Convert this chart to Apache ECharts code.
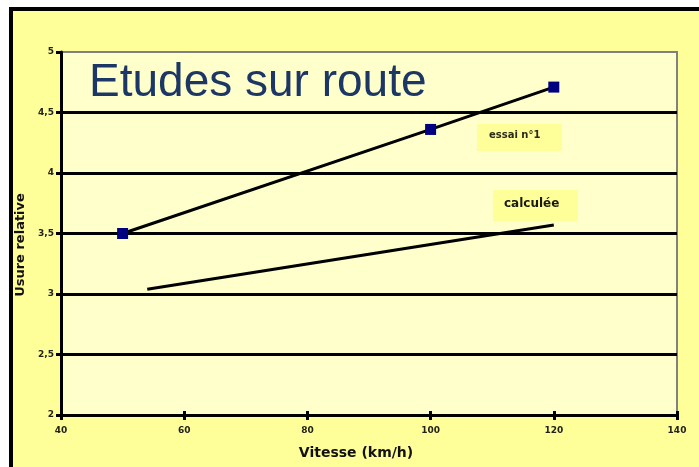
<!DOCTYPE html>
<html>
<head>
<meta charset="utf-8">
<script src="https://cdn.jsdelivr.net/npm/echarts@6/dist/echarts.min.js"></script>
<style>
  html, body { margin: 0; padding: 0; background: #ffffff; }
  #chart { width: 699px; height: 467px; }
</style>
</head>
<body>
<div id="chart"></div>
<script>
// Road study: wear versus speed
const speedTicks = [40, 60, 80, 100, 120, 140];
const wearTicks = [2, 2.5, 3, 3.5, 4, 4.5, 5];

const speedMeasured = [50, 100, 120];
const wearMeasured = [3.5, 4.36, 4.71];

const speedModel = [54, 120];
const wearModel = [3.04, 3.57];

const titleText = 'Etudes sur route';
const xTitle = 'Vitesse (km/h)';
const yTitle = 'Usure relative';
const noteUpper = 'essai n°1';
const noteLower = 'calculée';

const pairs = (xs, ys) => xs.map((x, i) => [x, ys[i]]);
const fmt = v => String(v).replace('.', ',');

const labelFont = {
  color: '#22221a',
  fontSize: 9,
  fontWeight: 'bold',
  fontFamily: 'DejaVu Sans'
};

const chart = echarts.init(document.getElementById('chart'), null, { renderer: 'canvas' });

chart.setOption({
  animation: false,
  backgroundColor: '#ffffff',
  title: {
    text: titleText,
    left: 89,
    top: 60,
    padding: 0,
    textStyle: {
      color: '#1c3766',
      fontSize: 46,
      fontWeight: 'normal',
      fontFamily: 'Liberation Sans'
    }
  },
  grid: {
    left: 61,
    right: 22,
    top: 52,
    bottom: 52,
    show: true,
    backgroundColor: '#FFFFCC',
    borderColor: '#808080',
    borderWidth: 2
  },
  xAxis: [
    {
      type: 'value',
      min: speedTicks[0],
      max: speedTicks[speedTicks.length - 1],
      interval: 20,
      axisLine: { show: true, lineStyle: { color: '#000', width: 3 } },
      axisTick: { show: true, length: 5, lineStyle: { color: '#000', width: 3 } },
      axisLabel: { ...labelFont, margin: 11 },
      splitLine: { show: false }
    },
    {
      type: 'value',
      position: 'bottom',
      min: speedTicks[0],
      max: speedTicks[speedTicks.length - 1],
      interval: 20,
      axisLine: { show: false },
      axisTick: { show: true, inside: true, length: 4, lineStyle: { color: '#000', width: 3 } },
      axisLabel: { show: false },
      splitLine: { show: false }
    }
  ],
  yAxis: {
    type: 'value',
    min: wearTicks[0],
    max: wearTicks[wearTicks.length - 1],
    interval: 0.5,
    axisLine: { show: true, lineStyle: { color: '#000', width: 3 } },
    axisTick: { show: true, length: 5, lineStyle: { color: '#000', width: 3 } },
    axisLabel: { ...labelFont, margin: 7, formatter: v => fmt(v) },
    splitLine: {
      show: true,
      showMaxLine: false,
      lineStyle: { color: '#000', width: 3 }
    }
  },
  graphic: [
    {
      type: 'rect',
      z: -10,
      silent: true,
      shape: { x: 11, y: 9, width: 800, height: 600 },
      style: { fill: '#FFFF99', stroke: '#000', lineWidth: 4 }
    },
    {
      type: 'text',
      z: 10,
      x: 356,
      y: 453,
      style: {
        text: xTitle,
        fill: '#111',
        font: 'bold 14px "DejaVu Sans"',
        textAlign: 'center',
        textVerticalAlign: 'middle'
      }
    },
    {
      type: 'text',
      z: 10,
      x: 21,
      y: 245,
      rotation: Math.PI / 2,
      style: {
        text: yTitle,
        fill: '#111',
        font: 'bold 13px "DejaVu Sans"',
        textAlign: 'center',
        textVerticalAlign: 'middle'
      }
    },
    {
      type: 'group',
      z: 10,
      x: 477,
      y: 124,
      children: [
        { type: 'rect', shape: { x: 0, y: 0, width: 85, height: 27 }, style: { fill: '#FFFF99' } },
        {
          type: 'text', x: 12, y: 11,
          style: { text: noteUpper, fill: '#2a2a1a', font: 'bold 10px "DejaVu Sans"', textVerticalAlign: 'middle' }
        }
      ]
    },
    {
      type: 'group',
      z: 10,
      x: 493,
      y: 190,
      children: [
        { type: 'rect', shape: { x: 0, y: 0, width: 85, height: 31 }, style: { fill: '#FFFF99' } },
        {
          type: 'text', x: 11, y: 14,
          style: { text: noteLower, fill: '#1a1a10', font: 'bold 12px "DejaVu Sans"', textVerticalAlign: 'middle' }
        }
      ]
    }
  ],
  series: [
    {
      type: 'line',
      xAxisIndex: 0,
      data: pairs(speedMeasured, wearMeasured),
      lineStyle: { color: '#000', width: 3 },
      symbol: 'rect',
      symbolSize: 11,
      itemStyle: { color: '#000080' },
      z: 5
    },
    {
      type: 'line',
      xAxisIndex: 0,
      data: pairs(speedModel, wearModel),
      lineStyle: { color: '#000', width: 3 },
      symbol: 'none',
      z: 5
    }
  ]
});
</script>
</body>
</html>
